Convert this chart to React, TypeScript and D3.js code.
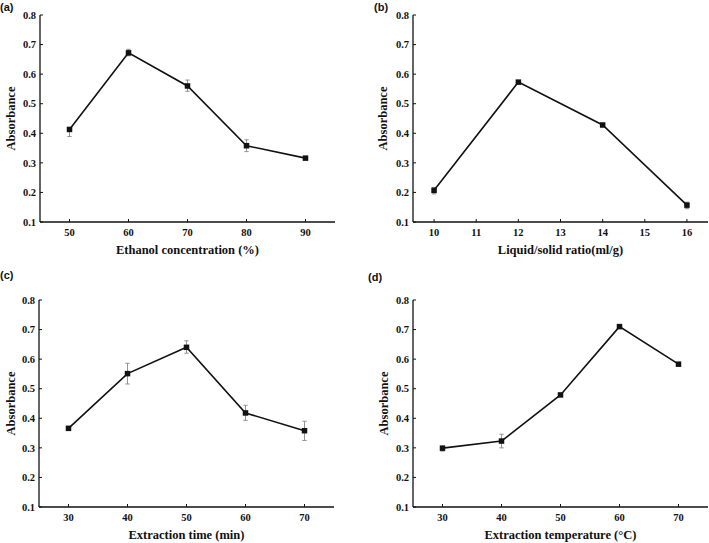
import React from "react";
import * as d3 from "d3";

const xA = [50, 60, 70, 80, 90];
const yA = [0.413, 0.672, 0.56, 0.358, 0.316];
const loA = [0.024, 0.01, 0.018, 0.02, 0.005];
const hiA = [0.0, 0.012, 0.02, 0.02, 0.004];
const ticksA = [50, 60, 70, 80, 90];

const xB = [10, 12, 14, 16];
const yB = [0.207, 0.573, 0.428, 0.157];
const loB = [0.012, 0.005, 0.005, 0.012];
const hiB = [0.01, 0.005, 0.005, 0.01];
const ticksB = [10, 11, 12, 13, 14, 15, 16];

const xC = [30, 40, 50, 60, 70];
const yC = [0.366, 0.551, 0.64, 0.418, 0.358];
const loC = [0.006, 0.035, 0.02, 0.025, 0.033];
const hiC = [0.006, 0.035, 0.022, 0.026, 0.032];
const ticksC = [30, 40, 50, 60, 70];

const xD = [30, 40, 50, 60, 70];
const yD = [0.299, 0.323, 0.479, 0.71, 0.583];
const loD = [0.01, 0.023, 0.004, 0.004, 0.004];
const hiD = [0.006, 0.023, 0.004, 0.004, 0.004];
const ticksD = [30, 40, 50, 60, 70];

const yTicks = [0.1, 0.2, 0.3, 0.4, 0.5, 0.6, 0.7, 0.8];

const serif = "'Liberation Serif', 'Times New Roman', serif";
const sans = "'Liberation Sans', Arial, sans-serif";

type PanelProps = {
  label: string;
  labelX: number;
  labelY: number;
  left: number;
  right: number;
  top: number;
  bottom: number;
  xDomain: [number, number];
  xs: number[];
  ys: number[];
  lo: number[];
  hi: number[];
  xTicks: number[];
  xTitle: string;
  yTitleX: number;
};

function Panel(p: PanelProps) {
  const x = d3.scaleLinear().domain(p.xDomain).range([p.left, p.right]);
  const y = d3.scaleLinear().domain([0.1, 0.8]).range([p.bottom, p.top]);
  const pts = p.xs.map((v, i) => [v, p.ys[i]] as [number, number]);
  const line = d3
    .line<[number, number]>()
    .x((d) => x(d[0]))
    .y((d) => y(d[1]));
  const tl = 3;
  const cap = 2.2;
  const ms = 5.5;
  return (
    <g>
      <text x={p.labelX} y={p.labelY} fontFamily={sans} fontWeight="bold" fontSize={11} fill="#111">
        {p.label}
      </text>
      {pts.map((d, i) => {
        const cx = x(d[0]);
        const yl = y(d[1] - p.lo[i]);
        const yh = y(d[1] + p.hi[i]);
        return (
          <g key={"e" + i} stroke="#888" strokeWidth={0.9}>
            <line x1={cx} x2={cx} y1={yl} y2={yh} />
            {p.lo[i] > 0 && <line x1={cx - cap} x2={cx + cap} y1={yl} y2={yl} />}
            {p.hi[i] > 0 && <line x1={cx - cap} x2={cx + cap} y1={yh} y2={yh} />}
          </g>
        );
      })}
      <path d={line(pts) || ""} fill="none" stroke="#111" strokeWidth={1.6} />
      {pts.map((d, i) => (
        <rect
          key={"m" + i}
          x={x(d[0]) - ms / 2}
          y={y(d[1]) - ms / 2}
          width={ms}
          height={ms}
          fill="#111"
        />
      ))}
      <line x1={p.left} x2={p.left} y1={p.top} y2={p.bottom} stroke="#111" strokeWidth={1.3} />
      <line x1={p.left} x2={p.right} y1={p.bottom} y2={p.bottom} stroke="#111" strokeWidth={1.3} />
      {yTicks.map((t) => (
        <g key={"yt" + t}>
          <line x1={p.left} x2={p.left + tl} y1={y(t)} y2={y(t)} stroke="#111" strokeWidth={1} />
          <text
            x={p.left - 4}
            y={y(t)}
            dy="0.35em"
            textAnchor="end"
            fontFamily={serif}
            fontWeight="bold"
            fontSize={10.5}
            fill="#111"
          >
            {t.toFixed(1)}
          </text>
        </g>
      ))}
      {p.xTicks.map((t) => (
        <g key={"xt" + t}>
          <line x1={x(t)} x2={x(t)} y1={p.bottom} y2={p.bottom - tl} stroke="#111" strokeWidth={1} />
          <text
            x={x(t)}
            y={p.bottom + 14}
            textAnchor="middle"
            fontFamily={serif}
            fontWeight="bold"
            fontSize={10.5}
            fill="#111"
          >
            {t}
          </text>
        </g>
      ))}
      <text
        x={(p.left + p.right) / 2}
        y={p.bottom + 32}
        textAnchor="middle"
        fontFamily={serif}
        fontWeight="bold"
        fontSize={12.5}
        fill="#111"
      >
        {p.xTitle}
      </text>
      <text
        transform={`translate(${p.yTitleX},${(p.top + p.bottom) / 2}) rotate(-90)`}
        textAnchor="middle"
        dy="0.35em"
        fontFamily={serif}
        fontWeight="bold"
        fontSize={12.5}
        fill="#111"
      >
        Absorbance
      </text>
    </g>
  );
}

export default function App() {
  return (
    <svg
      width={709}
      height={543}
      style={{ position: "absolute", left: 0, top: 0, background: "#fff" }}
    >
      <rect width={709} height={543} fill="#fff" />
      <Panel
        label="(a)" labelX={0} labelY={11}
        left={40} right={335} top={15} bottom={222}
        xDomain={[45, 95]} xs={xA} ys={yA} lo={loA} hi={hiA} xTicks={ticksA}
        xTitle="Ethanol concentration (%)" yTitleX={11}
      />
      <Panel
        label="(b)" labelX={374} labelY={11}
        left={413} right={708} top={15} bottom={222}
        xDomain={[9.5, 16.5]} xs={xB} ys={yB} lo={loB} hi={hiB} xTicks={ticksB}
        xTitle="Liquid/solid ratio(ml/g)" yTitleX={383}
      />
      <Panel
        label="(c)" labelX={0} labelY={279}
        left={39} right={334} top={300} bottom={507}
        xDomain={[25, 75]} xs={xC} ys={yC} lo={loC} hi={hiC} xTicks={ticksC}
        xTitle="Extraction time (min)" yTitleX={11}
      />
      <Panel
        label="(d)" labelX={368} labelY={281}
        left={413} right={708} top={300} bottom={507}
        xDomain={[25, 75]} xs={xD} ys={yD} lo={loD} hi={hiD} xTicks={ticksD}
        xTitle="Extraction temperature (°C)" yTitleX={384}
      />
    </svg>
  );
}
